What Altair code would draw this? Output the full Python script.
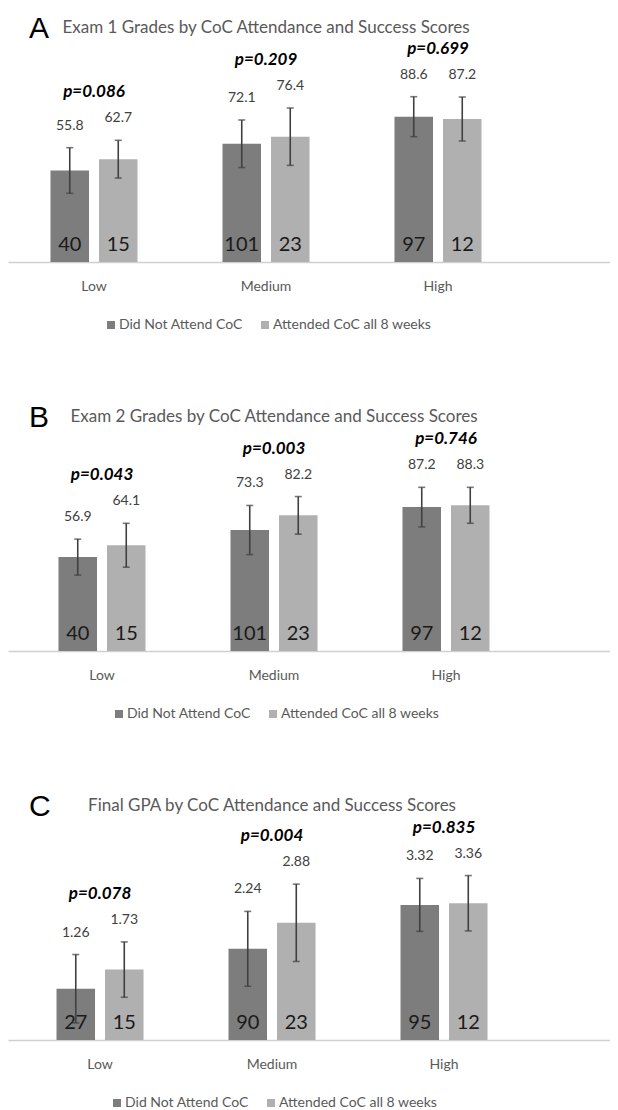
import altair as alt
import pandas as pd

groups = ["Low", "Medium", "High"]
series = ["Did Not Attend CoC", "Attended CoC all 8 weeks"]
colors = ["#7d7d7d", "#b0b0b0"]

# Panel A: Exam 1
exam1_dark = [55.8, 72.1, 88.6]
exam1_light = [62.7, 76.4, 87.2]
exam1_err_dark = [13.9, 14.5, 12.2]
exam1_err_light = [11.5, 17.5, 13.4]
exam1_n_dark = [40, 101, 97]
exam1_n_light = [15, 23, 12]
exam1_p = ["p=0.086", "p=0.209", "p=0.699"]

# Panel B: Exam 2
exam2_dark = [56.9, 73.3, 87.2]
exam2_light = [64.1, 82.2, 88.3]
exam2_err_dark = [10.9, 14.9, 12.0]
exam2_err_light = [13.3, 11.4, 10.9]
exam2_n_dark = [40, 101, 97]
exam2_n_light = [15, 23, 12]
exam2_p = ["p=0.043", "p=0.003", "p=0.746"]

# Panel C: Final GPA
gpa_dark = [1.26, 2.24, 3.32]
gpa_light = [1.73, 2.88, 3.36]
gpa_err_dark = [0.84, 0.92, 0.65]
gpa_err_light = [0.68, 0.95, 0.68]
gpa_n_dark = [27, 90, 95]
gpa_n_light = [15, 23, 12]
gpa_p = ["p=0.078", "p=0.004", "p=0.835"]

FONT = "Lato"
W = 602
H = 214
SPAN = 516


def make_df(dark, light, ed, el, nd, nl, pv):
    rows = []
    for i, g in enumerate(groups):
        rows.append(dict(group=g, series=series[0], mean=dark[i], err=ed[i], n=nd[i], p=pv[i]))
        rows.append(dict(group=g, series=series[1], mean=light[i], err=el[i], n=nl[i], p=pv[i]))
    return pd.DataFrame(rows)


def panel(df, letter, title, ymax, fmt, align):
    band_start = align * (W - SPAN)
    xscale = alt.Scale(paddingInner=0, paddingOuter=(W - SPAN) / (2 * SPAN / 3), align=align)
    xaxis = alt.Axis(title=None, ticks=False, tickSize=0, domainColor="#d0d0d0",
                     domainWidth=1.5, labelPadding=17, labelAngle=0,
                     labelFontSize=14, labelColor="#595959", labelFont=FONT)
    xenc = alt.X("group:N", sort=groups, scale=xscale, axis=xaxis)
    xo = alt.XOffset("series:N", sort=series,
                     scale=alt.Scale(paddingInner=0.206, paddingOuter=0.876, align=0.5))
    yscale = alt.Scale(domain=[0, ymax], nice=False, zero=True)

    base = alt.Chart(df).transform_calculate(
        lo="datum.mean - datum.err", hi="datum.mean + datum.err", zero="0"
    )
    bars = base.mark_bar().encode(
        x=xenc, xOffset=xo,
        y=alt.Y("mean:Q", scale=yscale, axis=None),
        color=alt.Color(
            "series:N", sort=series,
            scale=alt.Scale(domain=series, range=colors),
            legend=alt.Legend(
                orient="none", legendX=band_start + 96, legendY=H + 56,
                direction="horizontal", title=None, symbolType="square",
                symbolSize=64, symbolStrokeWidth=0, labelFontSize=14,
                labelColor="#595959", labelFont=FONT, columnPadding=15,
                labelOffset=1, padding=0, labelLimit=400,
            ),
        ),
    )
    rules = base.mark_rule(color="#404040", strokeWidth=1.6).encode(
        x=xenc, xOffset=xo,
        y=alt.Y("lo:Q", scale=yscale, axis=None), y2="hi:Q",
    )
    cap_lo = base.mark_tick(color="#404040", thickness=1.6, size=7).encode(
        x=xenc, xOffset=xo, y=alt.Y("lo:Q", scale=yscale, axis=None)
    )
    cap_hi = base.mark_tick(color="#404040", thickness=1.6, size=7).encode(
        x=xenc, xOffset=xo, y=alt.Y("hi:Q", scale=yscale, axis=None)
    )
    vals = base.mark_text(dy=-22, fontSize=14, color="#404040", font=FONT,
                          baseline="middle").encode(
        x=xenc, xOffset=xo, y=alt.Y("hi:Q", scale=yscale, axis=None),
        text=alt.Text("mean:Q", format=fmt),
    )
    counts = base.mark_text(dy=-17, fontSize=20, color="#1a1a1a", font=FONT,
                            baseline="middle").encode(
        x=xenc, xOffset=xo, y=alt.Y("zero:Q", scale=yscale, axis=None), text="n:Q",
    )
    pl = base.transform_aggregate(hmax="max(hi)", groupby=["group", "p"]).mark_text(
        dy=-48, fontSize=17, fontStyle="italic", fontWeight="bold", color="#000000",
        font=FONT, baseline="middle",
    ).encode(
        x=xenc, y=alt.Y("hmax:Q", scale=yscale, axis=None), text="p:N",
    )
    ttl = alt.Chart(pd.DataFrame({"t": [title]})).mark_text(
        align="center", baseline="middle", fontSize=17, color="#595959", font=FONT
    ).encode(x=alt.value(band_start + SPAN / 2), y=alt.value(-20), text="t:N")
    let = alt.Chart(pd.DataFrame({"t": [letter]})).mark_text(
        align="left", baseline="middle", fontSize=30, color="#000000",
        font="Liberation Sans"
    ).encode(x=alt.value(21), y=alt.value(-19), text="t:N")

    return alt.layer(bars, rules, cap_lo, cap_hi, vals, counts, pl, ttl, let).properties(
        width=W, height=H
    )


dfA = make_df(exam1_dark, exam1_light, exam1_err_dark, exam1_err_light,
              exam1_n_dark, exam1_n_light, exam1_p)
dfB = make_df(exam2_dark, exam2_light, exam2_err_dark, exam2_err_light,
              exam2_n_dark, exam2_n_light, exam2_p)
dfC = make_df(gpa_dark, gpa_light, gpa_err_dark, gpa_err_light,
              gpa_n_dark, gpa_n_light, gpa_p)

pA = panel(dfA, "A", "Exam 1 Grades by CoC Attendance and Success Scores", H / 1.64, ".1f", 0.0)
pB = panel(dfB, "B", "Exam 2 Grades by CoC Attendance and Success Scores", H / 1.65, ".1f", 0.093)
pC = panel(dfC, "C", "Final GPA by CoC Attendance and Success Scores", H / 40.7, ".2f", 0.07)

chart = alt.vconcat(pA, pB, pC, spacing=71).resolve_scale(
    color="independent"
).resolve_legend(color="independent").properties(
    padding={"left": 0, "top": 6, "right": 0, "bottom": 0}
).configure_view(stroke=None)

chart.save("out.html", embed_options={"renderer": "svg", "actions": False})
